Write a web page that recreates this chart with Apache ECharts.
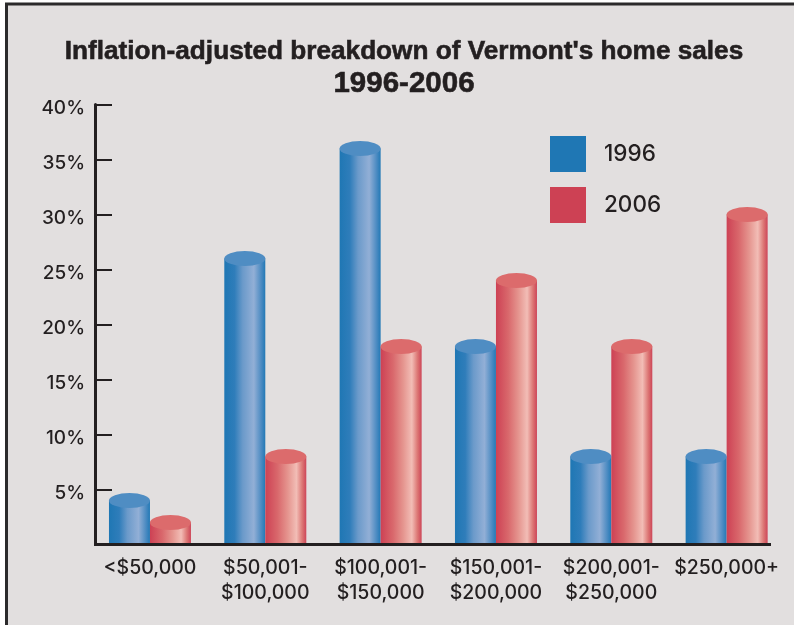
<!DOCTYPE html>
<html>
<head>
<meta charset="utf-8">
<style>
  html, body { margin: 0; padding: 0; background: #fff; }
  #chart { width: 794px; height: 625px; }
</style>
<script src="https://cdn.jsdelivr.net/npm/echarts@6/dist/echarts.min.js"></script>
</head>
<body>
<div id="chart"></div>
<script>
const categories = ['<$50,000', '$50,001-\n$100,000', '$100,001-\n$150,000', '$150,001-\n$200,000', '$200,001-\n$250,000', '$250,000+']
const values1996 = [4, 26, 36, 18, 8, 8]
const values2006 = [2, 8, 18, 24, 18, 30]

const textColor = '#231f20'
const labelFont = 'Inter'

function cylinderGradient (stops) {
  return {
    type: 'linear', x: 0, y: 0, x2: 1, y2: 0,
    colorStops: stops.map(s => ({ offset: s[0], color: s[1] }))
  }
}

const blueBody = cylinderGradient([[0, '#1f77b4'], [0.25, '#2f7dba'], [0.45, '#6b9aca'], [0.72, '#92afd6'], [0.9, '#4c8bc2'], [1, '#2279b6']])
const redBody = cylinderGradient([[0, '#cd4154'], [0.3, '#d9686c'], [0.55, '#e5958f'], [0.76, '#f2bdb6'], [0.9, '#dc7674'], [1, '#cd4558']])

function bodySeries (name, data, color) {
  return {
    name,
    type: 'bar',
    data,
    barWidth: 41,
    barGap: 0,
    itemStyle: { color }
  }
}

function capSeries (name, data, color) {
  return {
    name,
    type: 'pictorialBar',
    data,
    symbol: 'circle',
    symbolSize: [41, 15],
    symbolPosition: 'end',
    symbolOffset: [0, '-50%'],
    barWidth: 41,
    barGap: 0,
    z: 3,
    itemStyle: { color }
  }
}

function titleLine (fontSize) {
  return {
    color: textColor,
    fontFamily: 'Liberation Sans',
    fontWeight: 'bold',
    fontSize,
    lineHeight: 32,
    textBorderColor: textColor,
    textBorderWidth: 0.6
  }
}

const chart = echarts.init(document.getElementById('chart'))
chart.setOption({
  animation: false,
  backgroundColor: '#ffffff',
  title: {
    text: "{a|Inflation-adjusted breakdown of Vermont's home sales}\n{b|1996-2006}",
    left: 399,
    top: 31,
    textAlign: 'center',
    textStyle: {
      rich: { a: titleLine(26.2), b: titleLine(29.5) }
    }
  },
  legend: {
    orient: 'vertical',
    left: 545,
    top: 131,
    itemWidth: 36,
    itemHeight: 36,
    itemGap: 15,
    selectedMode: false,
    data: [
      { name: '1996', icon: 'rect', itemStyle: { color: '#1f77b4' } },
      { name: '2006', icon: 'rect', itemStyle: { color: '#cd4154' } }
    ],
    textStyle: {
      color: textColor,
      fontFamily: labelFont,
      fontWeight: 500,
      fontSize: 22.5,
      padding: [0, 0, 0, 13]
    }
  },
  grid: { left: 92.3, top: 104.5, width: 692, height: 440 },
  xAxis: {
    type: 'category',
    data: categories,
    axisLine: { show: false },
    axisTick: { show: false },
    axisLabel: {
      interval: 0,
      color: textColor,
      fontFamily: labelFont,
      fontWeight: 500,
      fontSize: 19.5,
      lineHeight: 25,
      margin: 11
    }
  },
  yAxis: {
    type: 'value',
    min: 0,
    max: 40,
    interval: 5,
    offset: -2.7,
    splitLine: { show: false },
    axisLine: { show: true, lineStyle: { color: textColor, width: 3 } },
    axisTick: { show: true, inside: true, length: 17, lineStyle: { color: textColor, width: 2 } },
    axisLabel: {
      color: textColor,
      fontFamily: labelFont,
      fontWeight: 500,
      fontSize: 19,
      margin: 10,
      verticalAlign: 'top',
      lineHeight: 8,
      formatter: v => (v === 0 ? '' : v + '%')
    }
  },
  graphic: [
    // panel behind the chart, open at right and bottom
    { type: 'rect', z: -10, shape: { x: 6, y: 4, width: 788, height: 621 }, style: { fill: '#e2dfdf' } },
    { type: 'polyline', z: -9, shape: { points: [[6.5, 625], [6.5, 4], [794, 4]] }, style: { fill: null, stroke: '#2b2a2b', lineWidth: 3 } },
    // baseline stops short of the grid's right edge
    { type: 'line', z: 5, shape: { x1: 94, y1: 544.5, x2: 771, y2: 544.5 }, style: { stroke: textColor, lineWidth: 3 } }
  ],
  series: [
    bodySeries('1996', values1996, blueBody),
    bodySeries('2006', values2006, redBody),
    capSeries('1996 top', values1996, '#4f8dc3'),
    capSeries('2006 top', values2006, '#dc6b6c')
  ]
})
</script>
</body>
</html>
